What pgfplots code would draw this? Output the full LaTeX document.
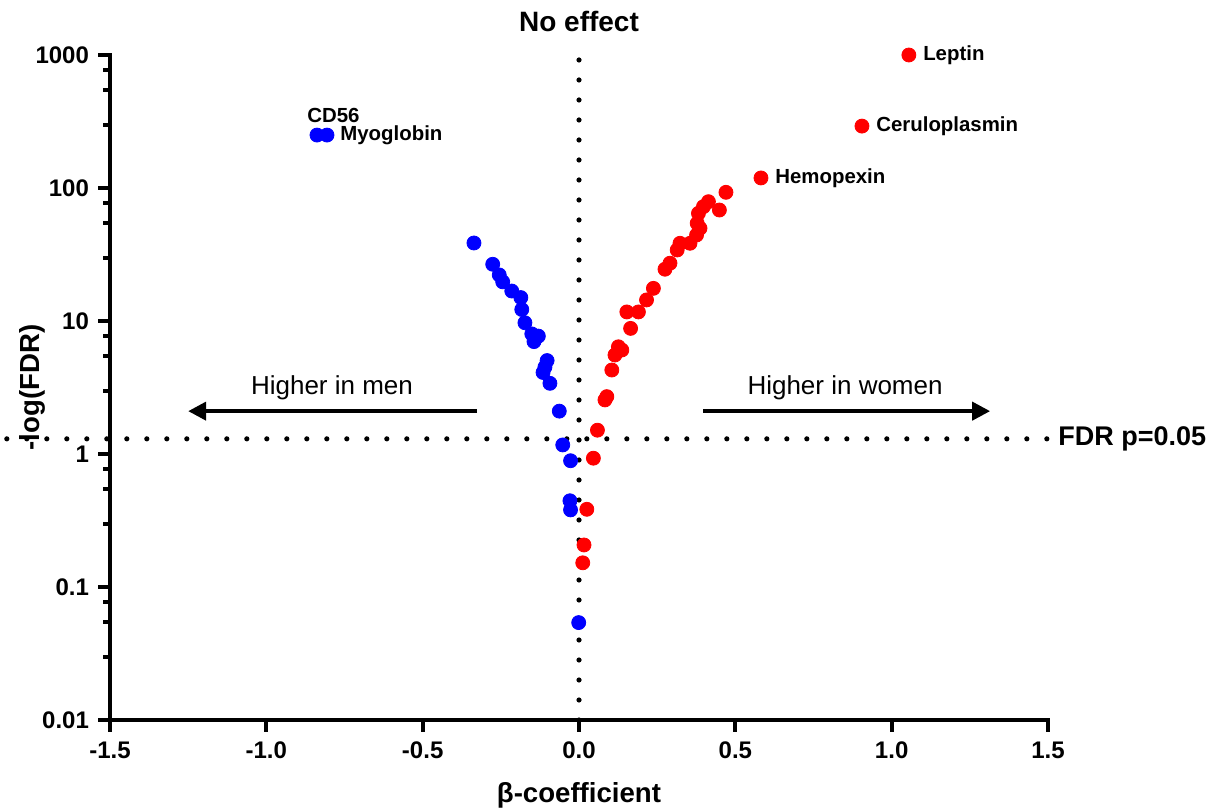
\documentclass[border=0pt]{standalone}
\usepackage{fontspec}
\setmainfont{Liberation Sans}
\usepackage{pgfplots}
\pgfplotsset{compat=1.18}
\usetikzlibrary{arrows.meta}
\definecolor{ptblue}{RGB}{0,0,255}
\definecolor{ptred}{RGB}{255,0,0}
\begin{document}
\begin{tikzpicture}
\begin{axis}[
  scale only axis, width=469pt, height=332.5pt,
  at={(0,0)}, anchor=south west,
  xmin=-1.5, xmax=1.5, ymode=log, ymin=0.01, ymax=1000,
  axis x line*=bottom, axis y line*=left,
  axis line style={line width=2pt, black, line cap=rect},
  tick align=outside,
  major tick length=6pt,
  xtick style={draw=none},
  ytick style={draw=none},
  minor tick style={draw=none},
  minor y tick style={draw=none},
  xtick={-1.5,-1,-0.5,0,0.5,1,1.5},
  xticklabels={-1.5,-1.0,-0.5,0.0,0.5,1.0,1.5},
  ytick={0.01,0.1,1,10,100,1000},
  yticklabels={0.01,0.1,1,10,100,1000},
  ticklabel style={font=\fontsize{12}{14}\selectfont\bfseries},
  xticklabel style={yshift=-1.5pt},
  yticklabel style={xshift=-1pt},
  xlabel={β-coefficient},
  ylabel={-log(FDR)},
  label style={font=\fontsize{13.8}{16}\selectfont\bfseries},
  xlabel style={at={(axis description cs:0.5,-0.113)}, anchor=center},
  ylabel style={at={(axis description cs:-0.083,0.5)}, anchor=center},
  clip=false,
]
% reference lines
\addplot[line width=2.6pt, line cap=round, dash pattern=on 0pt off 10pt, black]
  coordinates {(-1.83,1.3) (1.5,1.3)};
\addplot[line width=2.6pt, line cap=round, dash pattern=on 0pt off 10pt, black]
  coordinates {(0,0.01) (0,1150)};
% axis ticks
\pgfplotsinvokeforeach{-1.5,-1,-0.5,0,0.5,1,1.5}{
  \draw[line width=2pt, black] (axis cs:#1,0.01) -- ([yshift=-6pt]axis cs:#1,0.01);
}
\pgfplotsinvokeforeach{0.01,0.1,1,10,100,1000}{
  \draw[line width=2pt, black] (axis cs:-1.5,#1) -- ([xshift=-6pt]axis cs:-1.5,#1);
}
\pgfplotsinvokeforeach{0.03,0.055,0.077,0.3,0.55,0.77,3,5.5,7.7,30,55,77,300,550,770}{
  \draw[line width=2pt, black] (axis cs:-1.5,#1) -- ([xshift=-3.5pt]axis cs:-1.5,#1);
}
% men (blue)
\addplot[only marks, mark=*, mark size=3.5pt, ptblue, mark options={draw=ptblue, fill=ptblue}]
  coordinates {
  (-0.838,250) (-0.806,250) (-0.336,38.6) (-0.276,26.7) (-0.255,22.2)
  (-0.244,19.7) (-0.215,16.8) (-0.186,15.0) (-0.183,12.2) (-0.173,9.7)
  (-0.151,8.0) (-0.130,7.7) (-0.144,7.0) (-0.102,5.04) (-0.109,4.5)
  (-0.115,4.1) (-0.093,3.4) (-0.063,2.1) (-0.052,1.17) (-0.027,0.89)
  (-0.029,0.445) (-0.027,0.38) (-0.001,0.054)
  };
% women (red)
\addplot[only marks, mark=*, mark size=3.5pt, ptred, mark options={draw=ptred, fill=ptred}]
  coordinates {
  (1.055,1000) (0.905,292) (0.582,119) (0.470,92.8) (0.449,68.3)
  (0.414,78.9) (0.398,72.4) (0.382,64.5) (0.378,54.3) (0.387,49.8)
  (0.376,44.3) (0.355,38.4) (0.323,38.4) (0.314,34.2) (0.291,27.2)
  (0.275,24.5) (0.238,17.6) (0.216,14.4) (0.190,11.7) (0.153,11.7)
  (0.165,8.8) (0.126,6.4) (0.137,6.05) (0.115,5.55) (0.105,4.28)
  (0.089,2.7) (0.083,2.55) (0.059,1.51) (0.046,0.93) (0.025,0.384)
  (0.016,0.207) (0.012,0.152)
  };
% point labels
\begin{scope}[every node/.style={font=\fontsize{10.2}{12}\selectfont\bfseries, inner sep=0pt, anchor=west}]
\node at (axis cs:-0.870,354) {CD56};
\node at (axis cs:-0.806,250) [xshift=6.5pt] {Myoglobin};
\node at (axis cs:1.055,1000) [xshift=7pt] {Leptin};
\node at (axis cs:0.905,292) [xshift=7pt] {Ceruloplasmin};
\node at (axis cs:0.582,119) [xshift=7pt] {Hemopexin};
\end{scope}
% titles and annotations
\node[font=\fontsize{14}{16}\selectfont\bfseries] at (axis cs:0,1000) [yshift=16.5pt] {No effect};
\node[font=\fontsize{13.5}{16}\selectfont\bfseries, anchor=west, inner sep=0pt] at (axis cs:1.5,1.3) [xshift=5pt] {FDR p=0.05};
\draw[line width=2pt, -{Triangle[length=9pt,width=9pt]}] (axis cs:-0.326,2.1) -- (axis cs:-1.25,2.1);
\draw[line width=2pt, -{Triangle[length=9pt,width=9pt]}] (axis cs:0.397,2.1) -- (axis cs:1.315,2.1);
\node[font=\fontsize{13}{15}\selectfont] at (axis cs:-0.79,3.14) {Higher in men};
\node[font=\fontsize{13}{15}\selectfont] at (axis cs:0.851,3.14) {Higher in women};
\end{axis}
\pgfresetboundingbox
\path[use as bounding box] (-55pt,-46pt) rectangle (557.5pt,360pt);
\end{tikzpicture}
\end{document}
